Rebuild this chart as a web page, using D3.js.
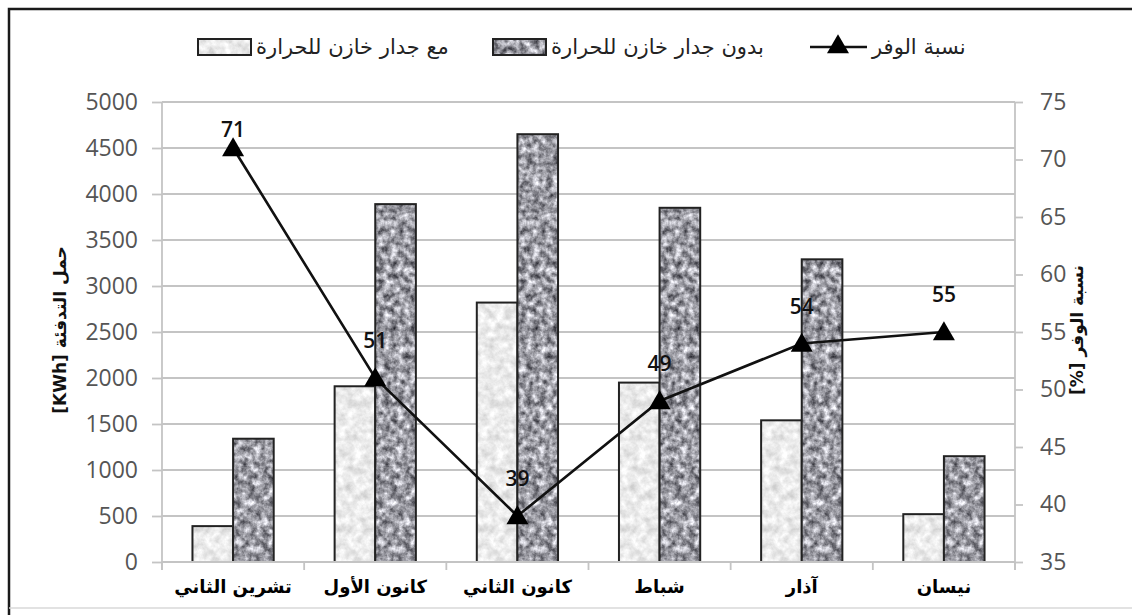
<!DOCTYPE html>
<html lang="ar">
<head>
<meta charset="utf-8">
<script src="https://cdn.jsdelivr.net/npm/d3@7"></script>
<style>
  html, body { margin: 0; padding: 0; background: #fff; }
  svg { display: block; }
</style>
</head>
<body>
<svg id="chart" width="1132" height="615"></svg>
<script>
// Months (heating season)
const categories = ["تشرين الثاني", "كانون الأول", "كانون الثاني", "شباط", "آذار", "نيسان"];
// Heating load [KWh]
const withWall = [390, 1910, 2820, 1950, 1540, 520];
const withoutWall = [1340, 3890, 4650, 3850, 3290, 1150];
// Saving ratio [%]
const savingPct = [71, 51, 39, 49, 54, 55];
// Series names
const seriesNames = ["مع جدار خازن للحرارة", "بدون جدار خازن للحرارة", "نسبة الوفر"];
// Axis ticks and titles
const leftTicks = [0, 500, 1000, 1500, 2000, 2500, 3000, 3500, 4000, 4500, 5000];
const rightTicks = [35, 40, 45, 50, 55, 60, 65, 70, 75];
const leftTitle = "حمل التدفئة [KWh]";
const rightTitle = "نسبة الوفر [%]";

const svg = d3.select("#chart");
const plot = { left: 162, right: 1015, top: 102, bottom: 562 };
const arabicFont = "'DejaVu Sans', sans-serif";
const numFont = "'Open Sans', sans-serif";

// Texture filters for the bar fills
const defs = svg.append("defs");
function textureFilter(id, gain, offset, seed, freq, tint) {
  const f = defs.append("filter").attr("id", id)
    .attr("x", 0).attr("y", 0).attr("width", 1).attr("height", 1)
    .attr("color-interpolation-filters", "sRGB");
  f.append("feTurbulence").attr("type", "fractalNoise")
    .attr("baseFrequency", freq).attr("numOctaves", 4).attr("seed", seed).attr("result", "n");
  f.append("feColorMatrix").attr("in", "n").attr("type", "matrix")
    .attr("values", `${gain} 0 0 0 ${offset}  ${gain} 0 0 0 ${offset}  ${gain} 0 0 0 ${offset + tint}  0 0 0 0 1`)
    .attr("result", "c");
  f.append("feComposite").attr("in", "c").attr("in2", "SourceGraphic").attr("operator", "in");
}
textureFilter("texLight", 0.3, 0.77, 7, 0.12, 0.0);
textureFilter("texDark", 1.15, 0.04, 3, 0.15, 0.03);
const filters = ["url(#texLight)", "url(#texDark)"];

// Frame
svg.append("path").attr("d", "M9,615 V9 H1132").attr("fill", "none")
  .attr("stroke", "#1a1a1a").attr("stroke-width", 2.5);
svg.append("line").attr("x1", 9).attr("x2", 1132).attr("y1", 608).attr("y2", 608)
  .attr("stroke", "#d8d8d8").attr("stroke-width", 1.5);

// Scales
const x0 = d3.scaleBand().domain(categories).range([plot.left, plot.right]).paddingInner(0).paddingOuter(0);
const x1 = d3.scaleBand().domain([0, 1]).range([0, x0.bandwidth()]).paddingInner(0).paddingOuter(0.75);
const y = d3.scaleLinear().domain([0, 5000]).range([plot.bottom, plot.top]);
const y2 = d3.scaleLinear().domain([35, 75]).range([plot.bottom, plot.top]);

// Gridlines
svg.append("g").selectAll("line").data(leftTicks.filter(d => d > 0)).join("line")
  .attr("x1", plot.left).attr("x2", plot.right)
  .attr("y1", d => y(d)).attr("y2", d => y(d))
  .attr("stroke", "#c4c4c4").attr("stroke-width", 1.8);

// Left axis
const gL = svg.append("g").attr("transform", `translate(${plot.left},0)`)
  .call(d3.axisLeft(y).tickValues(leftTicks).tickFormat(d3.format("d")).tickSize(10).tickPadding(14));
gL.select(".domain").attr("stroke", "#c4c4c4").attr("stroke-width", 1.8)
  .attr("d", `M0,${plot.top}V${plot.bottom + 8}`);
gL.selectAll(".tick line").attr("stroke", "#c4c4c4").attr("stroke-width", 1.8);
gL.selectAll(".tick text").attr("font-family", numFont).attr("font-size", 23)
  .attr("fill", "#555");

// Right axis
const gR = svg.append("g").attr("transform", `translate(${plot.right},0)`)
  .call(d3.axisRight(y2).tickValues(rightTicks).tickFormat(d3.format("d")).tickSize(8).tickPadding(17));
gR.select(".domain").attr("stroke", "#c4c4c4").attr("stroke-width", 1.8)
  .attr("d", `M0,${plot.top}V${plot.bottom + 8}`);
gR.selectAll(".tick line").attr("stroke", "#c4c4c4").attr("stroke-width", 1.8);
gR.selectAll(".tick text").attr("font-family", numFont).attr("font-size", 23)
  .attr("fill", "#555");

// Bars
const groups = svg.append("g").selectAll("g").data(categories).join("g")
  .attr("transform", d => `translate(${x0(d)},0)`);
const barData = (c, i) => [withWall[i], withoutWall[i]].map((v, s) => ({ s, v }));
const bars = groups.selectAll("g.bar").data(barData).join("g").attr("class", "bar");
bars.append("rect")
  .attr("x", d => x1(d.s)).attr("width", x1.bandwidth())
  .attr("y", d => y(d.v)).attr("height", d => y(0) - y(d.v))
  .attr("fill", "#888").attr("filter", d => filters[d.s]);
bars.append("rect")
  .attr("x", d => x1(d.s)).attr("width", x1.bandwidth())
  .attr("y", d => y(d.v)).attr("height", d => y(0) - y(d.v))
  .attr("fill", "none").attr("stroke", "#222").attr("stroke-width", 2);

// Category axis
const gX = svg.append("g").attr("transform", `translate(0,${plot.bottom})`);
gX.append("line").attr("x1", plot.left).attr("x2", plot.right)
  .attr("stroke", "#c4c4c4").attr("stroke-width", 1.8);
gX.selectAll("line.tk").data(d3.range(categories.length + 1)).join("line").attr("class", "tk")
  .attr("x1", i => plot.left + i * x0.step()).attr("x2", i => plot.left + i * x0.step())
  .attr("y1", 0).attr("y2", 8).attr("stroke", "#c4c4c4").attr("stroke-width", 1.8);
gX.selectAll("text").data(categories).join("text")
  .attr("x", d => x0(d) + x0.bandwidth() / 2).attr("y", 31)
  .attr("text-anchor", "middle").attr("direction", "rtl")
  .attr("font-family", arabicFont).attr("font-weight", "bold").attr("font-size", 18)
  .attr("fill", "#000").text(d => d);

// Saving ratio line
const pts = savingPct.map((v, i) => ({ x: x0(categories[i]) + x0.bandwidth() / 2, y: y2(v), v }));
svg.append("path").datum(pts)
  .attr("d", d3.line().x(d => d.x).y(d => d.y))
  .attr("fill", "none").attr("stroke", "#111").attr("stroke-width", 2.6);
const tri = d3.symbol().type(d3.symbolTriangle).size(210);
svg.append("g").selectAll("path").data(pts).join("path")
  .attr("transform", d => `translate(${d.x},${d.y + 2})`)
  .attr("d", tri).attr("fill", "#000");
svg.append("g").selectAll("text").data(pts).join("text")
  .attr("x", d => d.x).attr("y", d => Math.max(d.y - 38, plot.top + 27) + 8)
  .attr("text-anchor", "middle")
  .attr("font-family", numFont).attr("font-weight", 600).attr("font-size", 21)
  .attr("fill", "#111").text(d => d.v);

// Axis titles
svg.append("text").attr("transform", `translate(66,330) rotate(-90)`)
  .attr("text-anchor", "middle").attr("direction", "rtl")
  .attr("font-family", arabicFont).attr("font-weight", "bold").attr("font-size", 17)
  .attr("fill", "#111").text(leftTitle);
svg.append("text").attr("transform", `translate(1083,330) rotate(-90)`)
  .attr("text-anchor", "middle").attr("direction", "rtl")
  .attr("font-family", arabicFont).attr("font-weight", "bold").attr("font-size", 17)
  .attr("fill", "#111").text(rightTitle);

// Legend
const legY = 47;
const legend = svg.append("g");
const swatches = [{ x: 198, s: 0 }, { x: 493, s: 1 }];
swatches.forEach(o => {
  legend.append("rect").attr("x", o.x).attr("y", legY - 8).attr("width", 53).attr("height", 16)
    .attr("fill", "#888").attr("filter", filters[o.s]);
  legend.append("rect").attr("x", o.x).attr("y", legY - 8).attr("width", 53).attr("height", 16)
    .attr("fill", "none").attr("stroke", "#222").attr("stroke-width", 2);
  legend.append("text").attr("x", o.x + 58).attr("y", legY + 7)
    .attr("text-anchor", "start").attr("direction", "ltr").attr("unicode-bidi", "plaintext")
    .attr("font-family", arabicFont).attr("font-size", 21).attr("fill", "#222")
    .text(seriesNames[o.s]);
});
legend.append("line").attr("x1", 810).attr("x2", 867).attr("y1", legY).attr("y2", legY)
  .attr("stroke", "#111").attr("stroke-width", 2.6);
legend.append("path").attr("transform", `translate(838,${legY})`).attr("d", tri).attr("fill", "#000");
legend.append("text").attr("x", 872).attr("y", legY + 7)
  .attr("text-anchor", "start").attr("direction", "ltr").attr("unicode-bidi", "plaintext")
  .attr("font-family", arabicFont).attr("font-size", 21).attr("fill", "#222")
  .text(seriesNames[2]);
</script>
</body>
</html>
